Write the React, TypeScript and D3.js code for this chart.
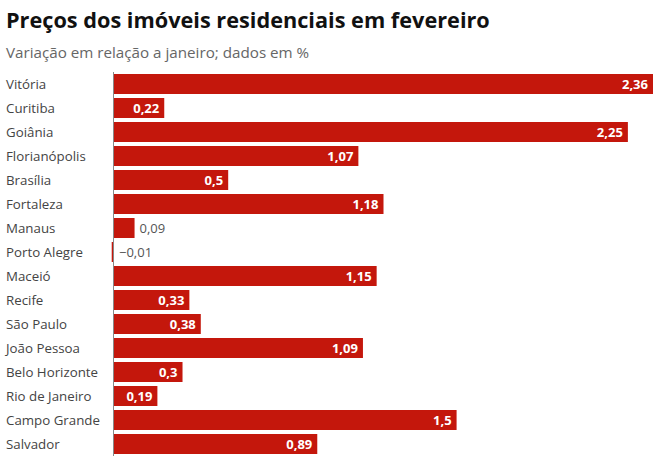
import { useEffect, useRef } from 'react';
import * as d3 from 'd3';

const cidades = [
  'Vitória', 'Curitiba', 'Goiânia', 'Florianópolis', 'Brasília', 'Fortaleza', 'Manaus', 'Porto Alegre',
  'Maceió', 'Recife', 'São Paulo', 'João Pessoa', 'Belo Horizonte', 'Rio de Janeiro', 'Campo Grande', 'Salvador',
];
const variacao = [2.36, 0.22, 2.25, 1.07, 0.5, 1.18, 0.09, -0.01, 1.15, 0.33, 0.38, 1.09, 0.3, 0.19, 1.5, 0.89];

const titulo = 'Preços dos imóveis residenciais em fevereiro';
const subtitulo = 'Variação em relação a janeiro; dados em %';

const W = 657;
const H = 465;
const FONT = '"Open Sans", sans-serif';
const RED = '#c4170c';

interface Linha {
  cidade: string;
  valor: number;
}

const fmt = (v: number) => (v < 0 ? '\u2212' : '') + String(Math.abs(v)).replace('.', ',');

export default function App() {
  const svgRef = useRef<SVGSVGElement>(null);

  useEffect(() => {
    if (!svgRef.current) return;
    const data: Linha[] = cidades.map((c, i) => ({ cidade: c, valor: variacao[i] }));

    const svg = d3.select(svgRef.current);
    svg.selectAll('*').remove();

    svg.append('rect').attr('width', W).attr('height', H).attr('fill', '#fff');

    svg.append('text')
      .attr('x', 6).attr('y', 28)
      .attr('font-family', FONT).attr('font-size', 21.7).attr('font-weight', 700)
      .attr('fill', '#111')
      .text(titulo);

    svg.append('text')
      .attr('x', 6).attr('y', 58)
      .attr('font-family', FONT).attr('font-size', 15.2)
      .attr('fill', '#666')
      .text(subtitulo);

    const x = d3.scaleLinear().domain([0, 2.36]).range([114, 653]);
    const y = d3.scaleBand<string>()
      .domain(cidades)
      .range([72, 456])
      .paddingInner(1 / 6)
      .paddingOuter(1 / 12);

    const g = svg.append('g');

    g.selectAll('.cat')
      .data(data)
      .join('text')
      .attr('class', 'cat')
      .attr('x', 6)
      .attr('y', (d) => (y(d.cidade) ?? 0) + y.bandwidth() / 2)
      .attr('dy', '0.35em')
      .attr('font-family', FONT).attr('font-size', 13.3)
      .attr('fill', '#444')
      .text((d) => d.cidade);

    g.selectAll('.bar')
      .data(data)
      .join('rect')
      .attr('class', 'bar')
      .attr('x', (d) => Math.min(x(0), x(d.valor)))
      .attr('y', (d) => y(d.cidade) ?? 0)
      .attr('width', (d) => Math.abs(x(d.valor) - x(0)))
      .attr('height', y.bandwidth())
      .attr('fill', RED);

    const dentro = (d: Linha) => x(d.valor) - x(0) > 35;

    g.selectAll('.val')
      .data(data)
      .join('text')
      .attr('class', 'val')
      .attr('x', (d) => (dentro(d) ? x(d.valor) - 5 : Math.max(x(d.valor), x(0)) + 5))
      .attr('y', (d) => (y(d.cidade) ?? 0) + y.bandwidth() / 2)
      .attr('dy', '0.35em')
      .attr('text-anchor', (d) => (dentro(d) ? 'end' : 'start'))
      .attr('font-family', FONT).attr('font-size', 13)
      .attr('font-weight', (d) => (dentro(d) ? 700 : 400))
      .attr('fill', (d) => (dentro(d) ? '#fff' : '#555'))
      .text((d) => fmt(d.valor));

    svg.append('line')
      .attr('x1', x(0) - 0.5).attr('x2', x(0) - 0.5)
      .attr('y1', 72).attr('y2', 456)
      .attr('stroke', '#888').attr('stroke-width', 1);
  }, []);

  return (
    <svg
      ref={svgRef}
      width={W}
      height={H}
      style={{ position: 'absolute', left: 0, top: 0, display: 'block' }}
    />
  );
}
